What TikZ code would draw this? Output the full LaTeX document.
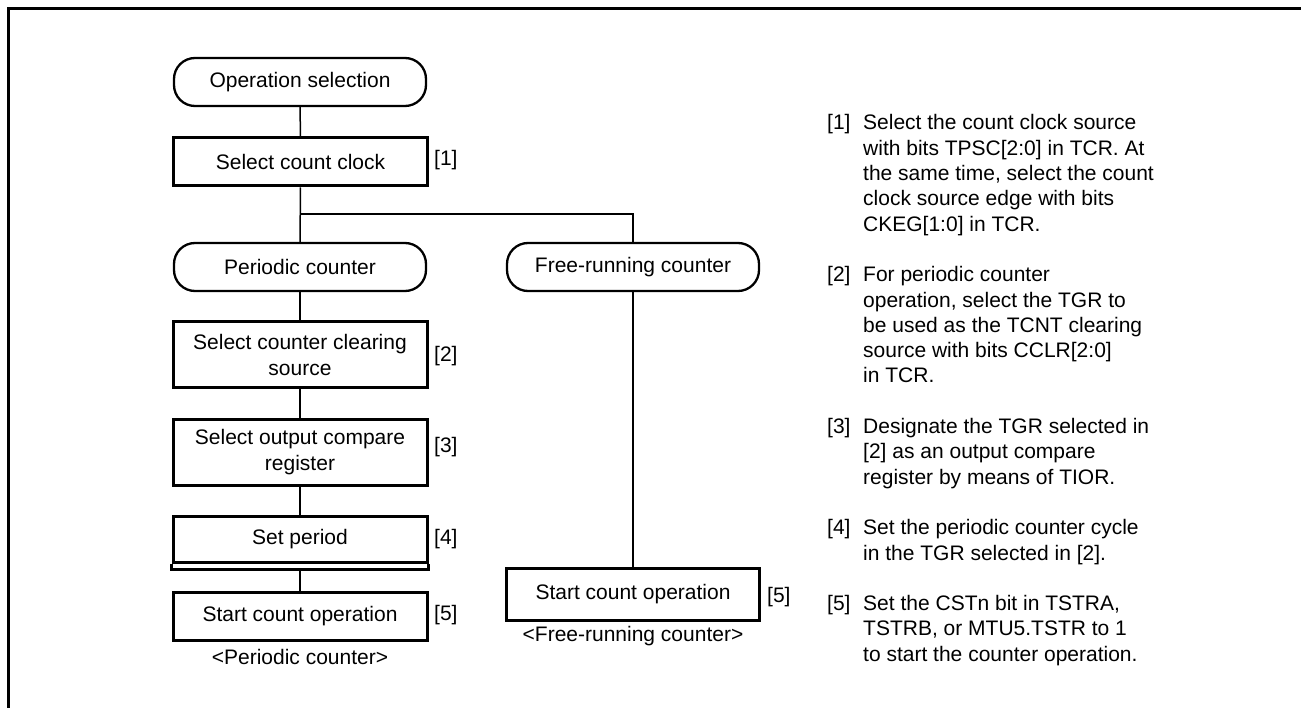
\documentclass[tikz,border=0pt]{standalone}
\usepackage{fontspec}
\setmainfont{Liberation Sans}
\begin{document}
\begin{tikzpicture}[x=1pt,y=-1pt,
  every node/.style={font=\fontsize{21}{25.3}\selectfont, inner sep=0pt},
  procbox/.style={draw, line width=3pt, minimum width=254pt, align=center},
  termbox/.style={draw, line width=2.3pt, rounded corners=21pt, minimum width=252pt, minimum height=48pt},
  conn/.style={line width=1.5pt},
  tag/.style={anchor=west},
  frameline/.style={line width=3pt}
]
\useasboundingbox (0,0) rectangle (1301,708);
% frame
\coordinate (fa) at (8,708);
\coordinate (fb) at (8,9);
\coordinate (fc) at (1301,9);
\draw[frameline] (fa) -- (fb) -- (fc);

% left column
\node[termbox] (op) at (300,82) {Operation selection};
\node[procbox, minimum height=48pt] (clk) at (300.5,162) {Select count clock};
\node[tag] (t1) at (434,160) {[1]};
\node[termbox] (per) at (300,267) {Periodic counter};
\node[termbox] (free) at (633,267) {Free-running counter};
\node[procbox, minimum height=66pt] (clr) at (300,355) {Select counter clearing\\source};
\node[tag] (t2) at (434,356) {[2]};
\node[procbox, minimum height=66pt] (cmp) at (300,452) {Select output compare\\register};
\node[tag] (t3) at (434,447) {[3]};
\node[procbox, minimum height=46pt] (setp) at (300,539) {Set period};
\node[tag] (t4) at (434,539) {[4]};
\draw[line width=3pt] (setp.south west) -- ++(0,6) -- ([yshift=-6pt]setp.south east) -- (setp.south east);
\node[procbox, minimum height=48pt] (stl) at (300,616) {Start count operation};
\node[tag] (t5) at (434,615) {[5]};
\node (capl) at (300,657) {<Periodic counter>};

% right column
\node[procbox, minimum height=52pt, minimum width=253pt] (str) at (633,594) {\raisebox{-3pt}{Start count operation}};
\node[tag] (t5r) at (767,597) {[5]};
\node (capr) at (633,636) {<Free-running counter>};

% connectors
\coordinate (j) at (300,214);
\draw[conn] (op) -- (clk);
\draw[conn] (clk) -- (per);
\draw[conn] (j) -| (free.north);
\draw[conn] (per) -- (clr);
\draw[conn] (clr) -- (cmp);
\draw[conn] (cmp) -- (setp);
\draw[conn] ([yshift=-6pt]setp.south) -- (stl);
\draw[conn] (free) -- (str);

% notes
\node[anchor=base west] (notes) at (827,130) {\parbox[t]{440pt}{\raggedright
\makebox[36pt][l]{[1]}Select the count clock source\\
\hspace*{36pt}with bits TPSC[2:0] in TCR. At\\
\hspace*{36pt}the same time, select the count\\
\hspace*{36pt}clock source edge with bits\\
\hspace*{36pt}CKEG[1:0] in TCR.\\[25.3pt]
\makebox[36pt][l]{[2]}For periodic counter\\
\hspace*{36pt}operation, select the TGR to\\
\hspace*{36pt}be used as the TCNT clearing\\
\hspace*{36pt}source with bits CCLR[2:0]\\
\hspace*{36pt}in TCR.\\[25.3pt]
\makebox[36pt][l]{[3]}Designate the TGR selected in\\
\hspace*{36pt}[2] as an output compare\\
\hspace*{36pt}register by means of TIOR.\\[25.3pt]
\makebox[36pt][l]{[4]}Set the periodic counter cycle\\
\hspace*{36pt}in the TGR selected in [2].\\[25.3pt]
\makebox[36pt][l]{[5]}Set the CSTn bit in TSTRA,\\
\hspace*{36pt}TSTRB, or MTU5.TSTR to 1\\
\hspace*{36pt}to start the counter operation.}};
\end{tikzpicture}
\end{document}
